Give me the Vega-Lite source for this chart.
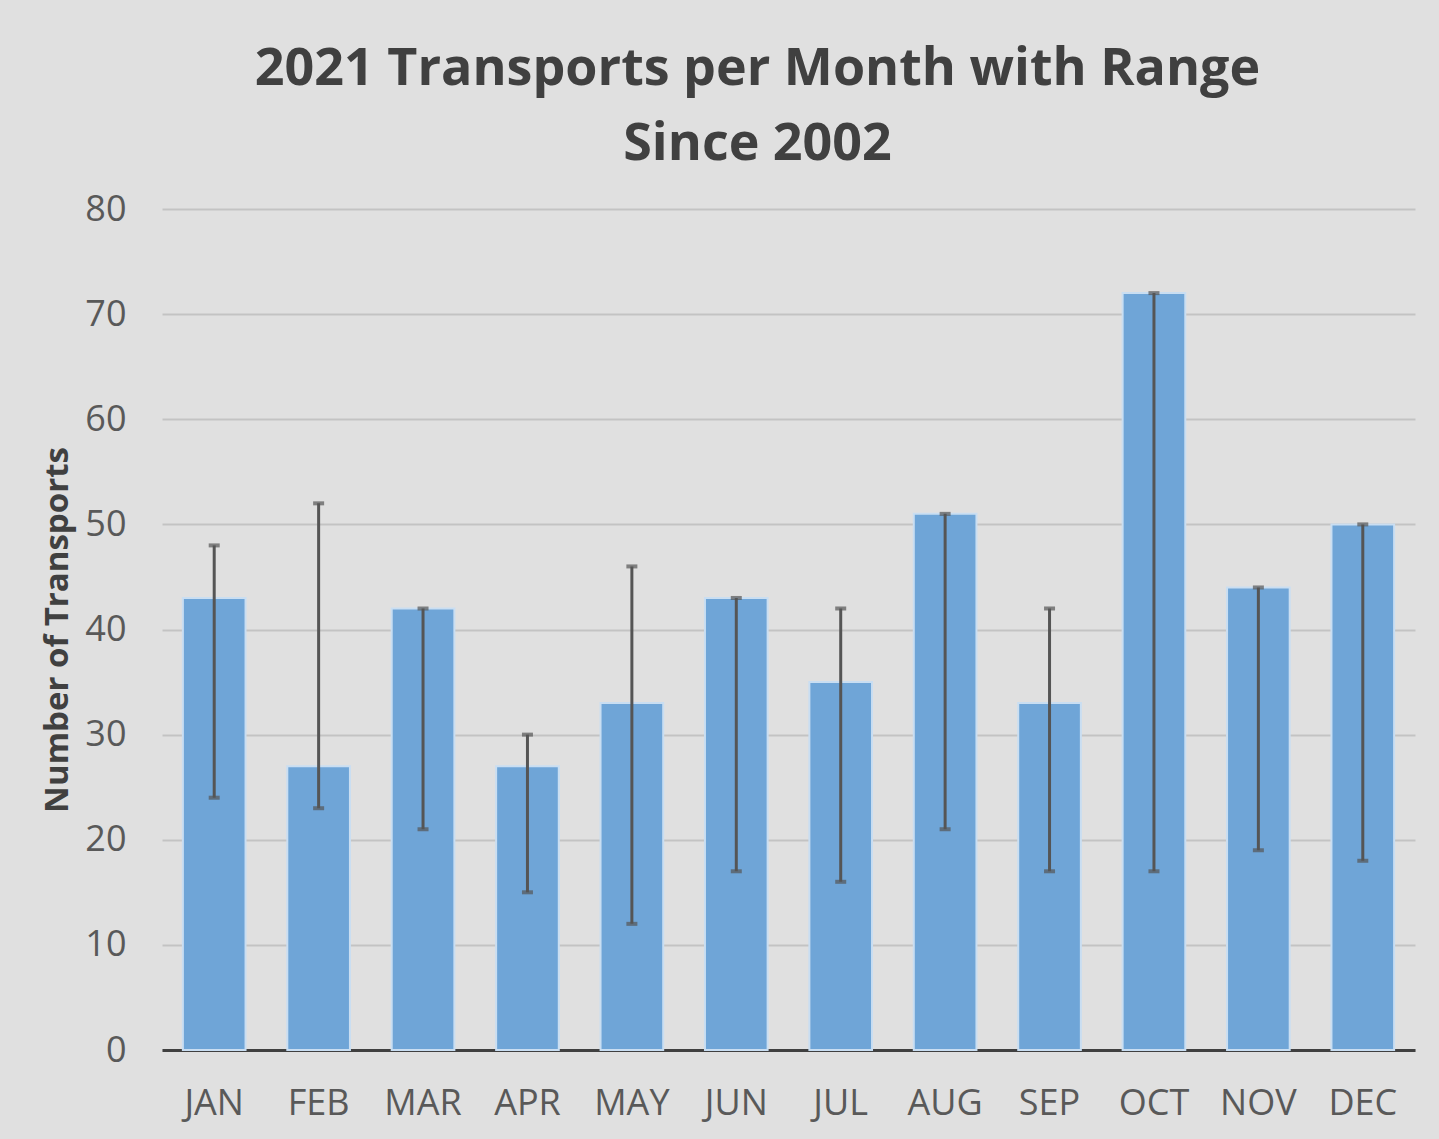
{
  "$schema": "https://vega.github.io/schema/vega-lite/v6.json",
  "autosize": "none",
  "width": 1253,
  "height": 841,
  "padding": {"left": 162, "top": 209, "right": 24, "bottom": 89},
  "background": "#e0e0e0",
  "title": {
    "text": ["2021 Transports per Month with Range", "Since 2002"],
    "font": "Open Sans",
    "fontSize": 52,
    "fontWeight": "bold",
    "color": "#404040",
    "lineHeight": 75,
    "anchor": "middle",
    "dx": -31,
    "offset": 20
  },
  "config": {
    "view": {"stroke": null},
    "font": "Open Sans",
    "axisY": {
      "titleFont": "Open Sans",
      "titleFontSize": 33,
      "titleFontWeight": "bold",
      "titleColor": "#404040",
      "titlePadding": 10,
      "labelFont": "Open Sans",
      "labelFontSize": 36,
      "labelColor": "#595959",
      "labelPadding": 36,
      "ticks": false,
      "domain": false,
      "gridColor": "#c3c3c3",
      "gridWidth": 2
    }
  },
  "data": {
    "values": [
      {"month": "JAN", "value": 43, "low": 24, "high": 48},
      {"month": "FEB", "value": 27, "low": 23, "high": 52},
      {"month": "MAR", "value": 42, "low": 21, "high": 42},
      {"month": "APR", "value": 27, "low": 15, "high": 30},
      {"month": "MAY", "value": 33, "low": 12, "high": 46},
      {"month": "JUN", "value": 43, "low": 17, "high": 43},
      {"month": "JUL", "value": 35, "low": 16, "high": 42},
      {"month": "AUG", "value": 51, "low": 21, "high": 51},
      {"month": "SEP", "value": 33, "low": 17, "high": 42},
      {"month": "OCT", "value": 72, "low": 17, "high": 72},
      {"month": "NOV", "value": 44, "low": 19, "high": 44},
      {"month": "DEC", "value": 50, "low": 18, "high": 50}
    ]
  },
  "encoding": {
    "x": {
      "field": "month",
      "type": "nominal",
      "sort": null,
      "scale": {"paddingInner": 0.4, "paddingOuter": 0.2},
      "axis": {
        "title": null,
        "labelAngle": 0,
        "labelFont": "Open Sans",
        "labelFontSize": 36,
        "labelColor": "#595959",
        "labelPadding": 36,
        "ticks": false,
        "domainColor": "#404040",
        "domainWidth": 3,
        "grid": false
      }
    }
  },
  "layer": [
    {
      "mark": {"type": "bar", "color": "#6fa5d7", "stroke": "#c9def2", "strokeWidth": 2},
      "encoding": {
        "y": {
          "field": "value",
          "type": "quantitative",
          "scale": {"domain": [0, 80], "nice": false},
          "axis": {"title": "Number of Transports", "values": [0, 10, 20, 30, 40, 50, 60, 70, 80]}
        }
      }
    },
    {
      "mark": {"type": "rule", "color": "#555555", "strokeWidth": 3},
      "encoding": {
        "y": {"field": "low", "type": "quantitative", "axis": {"title": "Number of Transports", "values": [0, 10, 20, 30, 40, 50, 60, 70, 80]}},
        "y2": {"field": "high"}
      }
    },
    {
      "mark": {"type": "tick", "color": "#555555", "size": 11, "thickness": 4},
      "encoding": {
        "y": {"field": "high", "type": "quantitative", "axis": {"title": "Number of Transports", "values": [0, 10, 20, 30, 40, 50, 60, 70, 80]}}
      }
    },
    {
      "mark": {"type": "tick", "color": "#555555", "size": 11, "thickness": 4},
      "encoding": {
        "y": {"field": "low", "type": "quantitative", "axis": {"title": "Number of Transports", "values": [0, 10, 20, 30, 40, 50, 60, 70, 80]}}
      }
    }
  ]
}
